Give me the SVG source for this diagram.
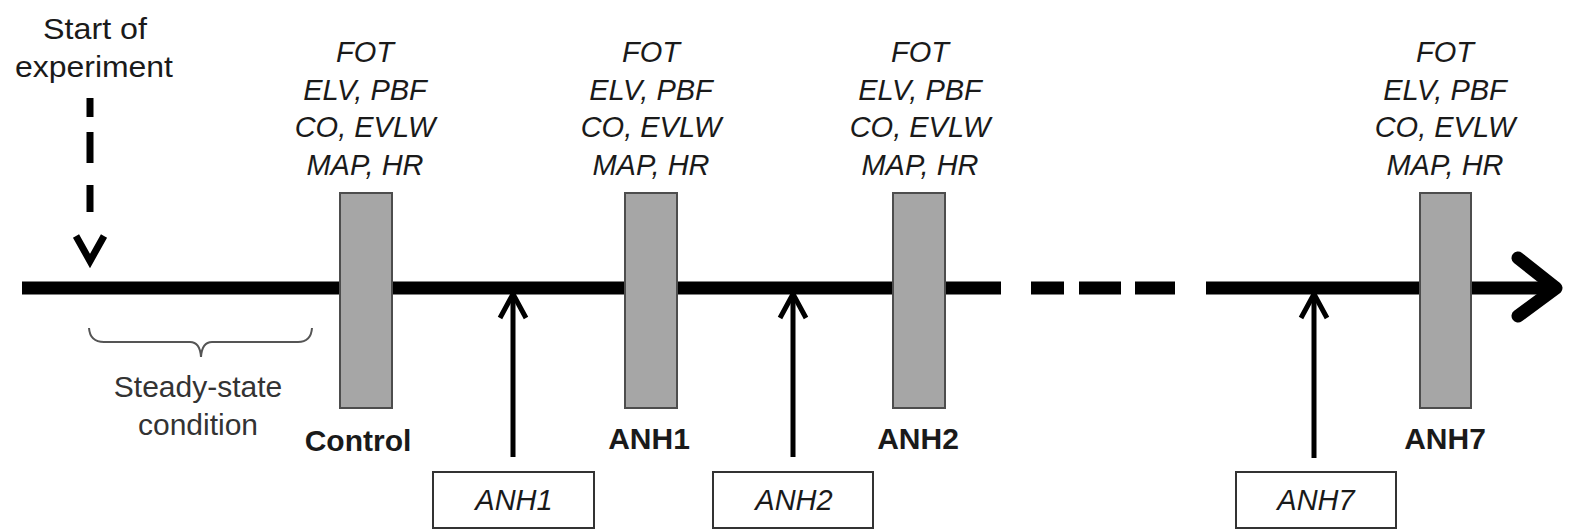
<svg xmlns="http://www.w3.org/2000/svg" width="1569" height="532" viewBox="0 0 1569 532">
<style>
text{font-family:"Liberation Sans",Arial,sans-serif;fill:#1a1a1a}
.m{font-size:29px;font-style:italic;text-anchor:middle}
.b{font-size:30px;font-weight:bold;text-anchor:middle}
.s{font-size:30px;text-anchor:middle;fill:#333}
.bar{fill:#a6a6a6;stroke:#4d4d4d;stroke-width:2}
.box{fill:#fff;stroke:#333;stroke-width:2}
.ar{stroke:#000;stroke-width:5;fill:none}
</style>
<rect width="1569" height="532" fill="#fff"/>
<g id="connectors">
<line x1="22" y1="288" x2="1001" y2="288" stroke="#000" stroke-width="13"/>
<path d="M1031 288H1064M1079 288H1121M1135 288H1175" stroke="#000" stroke-width="13"/>
<line x1="1206" y1="288" x2="1555" y2="288" stroke="#000" stroke-width="13"/>
<polyline points="1518,258 1556,288 1518,316" fill="none" stroke="#000" stroke-width="13" stroke-linecap="round" stroke-linejoin="round"/>
<path d="M90 98V117M90 132V163M90 185V212" stroke="#000" stroke-width="7"/>
<polyline points="76,236 90,261 104,236" fill="none" stroke="#000" stroke-width="7"/>
<g class="ar">
<line x1="513" y1="457" x2="513" y2="292"/><polyline points="500,318 513,294 526,318"/>
<line x1="793" y1="457" x2="793" y2="292"/><polyline points="780,318 793,294 806,318"/>
<line x1="1314" y1="458" x2="1314" y2="292"/><polyline points="1301,318 1314,294 1327,318"/>
</g>
<path d="M89 328 Q90 342 104 342 L190 342 Q200 342 201 357 Q202 342 212 342 L298 342 Q311 342 312 328" fill="none" stroke="#555" stroke-width="2"/>
</g>
<g id="start">
<text class="s" x="95" y="39" style="fill:#1a1a1a;font-size:29px" textLength="104" lengthAdjust="spacingAndGlyphs">Start of</text>
<text class="s" x="94" y="77" style="fill:#1a1a1a;font-size:29px" textLength="158" lengthAdjust="spacingAndGlyphs">experiment</text>
</g>
<g id="steady">
<text class="s" x="198" y="397">Steady-state</text>
<text class="s" x="198" y="435">condition</text>
</g>
<g id="control">
<rect class="bar" x="340" y="193" width="52" height="215"/>
<text class="m" x="365" y="62">FOT</text>
<text class="m" x="365" y="100">ELV, PBF</text>
<text class="m" x="365" y="137">CO, EVLW</text>
<text class="m" x="365" y="175">MAP, HR</text>
<text class="b" x="358" y="451">Control</text>
</g>
<g id="m1">
<rect class="bar" x="625" y="193" width="52" height="215"/>
<text class="m" x="651" y="62">FOT</text>
<text class="m" x="651" y="100">ELV, PBF</text>
<text class="m" x="651" y="137">CO, EVLW</text>
<text class="m" x="651" y="175">MAP, HR</text>
<text class="b" x="649" y="449">ANH1</text>
</g>
<g id="m2">
<rect class="bar" x="893" y="193" width="52" height="215"/>
<text class="m" x="920" y="62">FOT</text>
<text class="m" x="920" y="100">ELV, PBF</text>
<text class="m" x="920" y="137">CO, EVLW</text>
<text class="m" x="920" y="175">MAP, HR</text>
<text class="b" x="918" y="449">ANH2</text>
</g>
<g id="m7">
<rect class="bar" x="1420" y="193" width="51" height="215"/>
<text class="m" x="1445" y="62">FOT</text>
<text class="m" x="1445" y="100">ELV, PBF</text>
<text class="m" x="1445" y="137">CO, EVLW</text>
<text class="m" x="1445" y="175">MAP, HR</text>
<text class="b" x="1445" y="449">ANH7</text>
</g>
<g id="d1">
<rect class="box" x="433" y="472" width="161" height="56"/>
<text class="m" x="514" y="510">ANH1</text>
</g>
<g id="d2">
<rect class="box" x="713" y="472" width="160" height="56"/>
<text class="m" x="794" y="510">ANH2</text>
</g>
<g id="d7">
<rect class="box" x="1236" y="472" width="160" height="56"/>
<text class="m" x="1316" y="510">ANH7</text>
</g>
</svg>
